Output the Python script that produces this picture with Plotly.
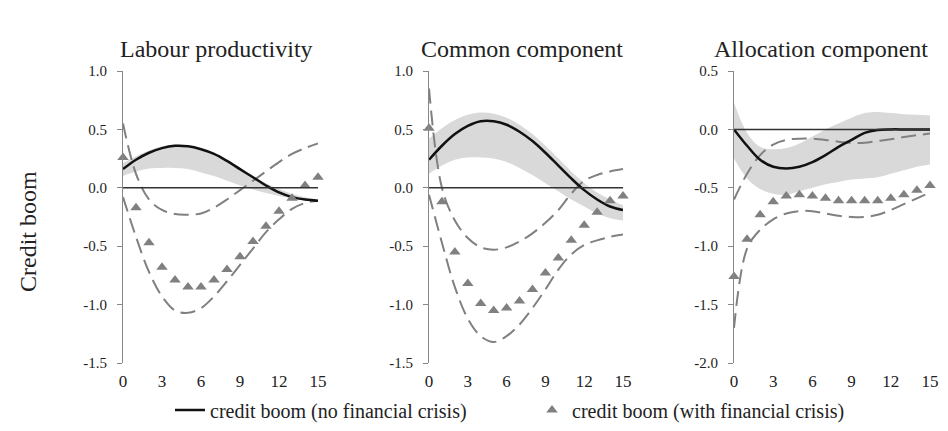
import plotly.graph_objects as go

# ---------------- data ----------------
horizon = list(range(16))
panel_titles = ["Labour productivity", "Common component", "Allocation component"]
y_axis_title = "Credit boom"
legend_no_crisis = "credit boom (no financial crisis)"
legend_crisis = "credit boom (with financial crisis)"

x_tick_vals = [0, 3, 6, 9, 12, 15]
y_tick_vals_12 = [1.0, 0.5, 0.0, -0.5, -1.0, -1.5]
y_tick_text_12 = ["1.0", "0.5", "0.0", "-0.5", "-1.0", "-1.5"]
y_tick_vals_3 = [0.5, 0.0, -0.5, -1.0, -1.5, -2.0]
y_tick_text_3 = ["0.5", "0.0", "-0.5", "-1.0", "-1.5", "-2.0"]

# Labour productivity
lp_no_crisis = [0.16, 0.24, 0.30, 0.34, 0.36, 0.355, 0.33, 0.29, 0.23, 0.16, 0.09, 0.02, -0.04, -0.08, -0.10, -0.11]
lp_band_upper = [0.21, 0.27, 0.32, 0.355, 0.37, 0.365, 0.34, 0.30, 0.24, 0.17, 0.10, 0.04, -0.01, -0.05, -0.08, -0.10]
lp_band_lower = [0.10, 0.14, 0.165, 0.17, 0.17, 0.16, 0.13, 0.10, 0.06, 0.02, -0.015, -0.045, -0.07, -0.09, -0.105, -0.115]
lp_crisis = [0.26, -0.17, -0.47, -0.68, -0.79, -0.85, -0.85, -0.79, -0.70, -0.59, -0.46, -0.33, -0.20, -0.09, 0.02, 0.09]
lp_crisis_upper = [0.55, 0.12, -0.10, -0.19, -0.225, -0.23, -0.22, -0.17, -0.10, -0.02, 0.06, 0.14, 0.22, 0.29, 0.34, 0.38]
lp_crisis_lower = [-0.08, -0.42, -0.72, -0.93, -1.05, -1.07, -1.03, -0.93, -0.80, -0.66, -0.52, -0.38, -0.27, -0.18, -0.13, -0.11]

# Common component
cc_no_crisis = [0.24, 0.36, 0.46, 0.53, 0.57, 0.57, 0.54, 0.48, 0.40, 0.30, 0.19, 0.08, -0.02, -0.10, -0.16, -0.19]
cc_band_upper = [0.42, 0.51, 0.58, 0.625, 0.645, 0.635, 0.60, 0.54, 0.46, 0.36, 0.25, 0.14, 0.04, -0.04, -0.10, -0.15]
cc_band_lower = [0.12, 0.19, 0.24, 0.26, 0.26, 0.25, 0.22, 0.17, 0.11, 0.04, -0.03, -0.10, -0.16, -0.22, -0.26, -0.28]
cc_crisis = [0.51, -0.12, -0.55, -0.82, -0.99, -1.05, -1.03, -0.97, -0.87, -0.73, -0.60, -0.45, -0.32, -0.21, -0.11, -0.07]
cc_crisis_upper = [0.85, 0.0, -0.28, -0.43, -0.51, -0.53, -0.51, -0.46, -0.39, -0.30, -0.19, -0.05, 0.06, 0.11, 0.14, 0.16]
cc_crisis_lower = [-0.06, -0.47, -0.85, -1.12, -1.27, -1.32, -1.27, -1.17, -1.03, -0.87, -0.70, -0.57, -0.49, -0.45, -0.42, -0.40]

# Allocation component
ac_no_crisis = [0.0, -0.14, -0.26, -0.32, -0.335, -0.32, -0.28, -0.22, -0.15, -0.09, -0.03, -0.005, 0.0, 0.0, 0.0, 0.0]
ac_band_upper = [0.23, -0.03, -0.15, -0.17, -0.16, -0.12, -0.06, 0.0, 0.05, 0.10, 0.14, 0.15, 0.14, 0.13, 0.125, 0.12]
ac_band_lower = [-0.25, -0.42, -0.51, -0.55, -0.56, -0.53, -0.50, -0.47, -0.45, -0.43, -0.42, -0.41, -0.38, -0.35, -0.32, -0.30]
ac_crisis = [-1.26, -0.94, -0.73, -0.62, -0.57, -0.56, -0.57, -0.59, -0.61, -0.61, -0.61, -0.61, -0.59, -0.56, -0.52, -0.48]
ac_crisis_upper = [-0.60, -0.38, -0.22, -0.13, -0.09, -0.08, -0.08, -0.09, -0.105, -0.115, -0.115, -0.10, -0.085, -0.065, -0.05, -0.035]
ac_crisis_lower = [-1.70, -1.02, -0.86, -0.77, -0.72, -0.70, -0.70, -0.72, -0.74, -0.75, -0.75, -0.73, -0.69, -0.64, -0.59, -0.54]

panels = [
    (lp_no_crisis, lp_band_upper, lp_band_lower, lp_crisis, lp_crisis_upper, lp_crisis_lower),
    (cc_no_crisis, cc_band_upper, cc_band_lower, cc_crisis, cc_crisis_upper, cc_crisis_lower),
    (ac_no_crisis, ac_band_upper, ac_band_lower, ac_crisis, ac_crisis_upper, ac_crisis_lower),
]

# ---------------- styling ----------------
W, H = 948, 431
FONT = "Liberation Serif"
TXT = "#222222"
BAND = "#d9d9d9"
DASH_C = "#808080"
TRI_C = "#808080"

x_domains = [[123 / W, 318 / W], [429 / W, 623 / W], [734 / W, 930 / W]]
y_domain = [(H - 363) / H, (H - 71) / H]
y_ranges = [[-1.5, 1.0], [-1.5, 1.0], [-2.0, 0.5]]
title_x = [216, 522, 821]

fig = go.Figure()

for i, (solid, bu, bl, tri, du, dl) in enumerate(panels):
    xa = "x" if i == 0 else f"x{i+1}"
    ya = "y" if i == 0 else f"y{i+1}"
    fig.add_trace(go.Scatter(x=horizon, y=bu, mode="lines", line=dict(width=0, shape="spline", color=BAND),
                             xaxis=xa, yaxis=ya, showlegend=False, hoverinfo="skip"))
    fig.add_trace(go.Scatter(x=horizon, y=bl, mode="lines", line=dict(width=0, shape="spline", color=BAND),
                             fill="tonexty", fillcolor=BAND, xaxis=xa, yaxis=ya, showlegend=False, hoverinfo="skip"))
    for d in (du, dl):
        fig.add_trace(go.Scatter(x=horizon, y=d, mode="lines",
                                 line=dict(color=DASH_C, width=2, dash="15px,7px", shape="spline"),
                                 xaxis=xa, yaxis=ya, showlegend=False, cliponaxis=False))
    fig.add_trace(go.Scatter(x=horizon, y=solid, mode="lines", name=legend_no_crisis,
                             line=dict(color="#111111", width=2.5, shape="spline"),
                             xaxis=xa, yaxis=ya, showlegend=(i == 0), legend="legend"))
    fig.add_trace(go.Scatter(x=horizon, y=tri, mode="markers", name=legend_crisis,
                             marker=dict(symbol="triangle-up", size=10, color=TRI_C),
                             xaxis=xa, yaxis=ya, showlegend=(i == 0), cliponaxis=False, legend="legend2"))
    # zero reference line
    fig.add_shape(type="line", xref=xa, yref=ya, x0=horizon[0], x1=horizon[-1], y0=0, y1=0,
                  line=dict(color="#333333", width=1.5), layer="above")
    # panel title
    fig.add_annotation(text=panel_titles[i], xref="paper", yref="paper", x=title_x[i] / W, y=(H - 49) / H,
                       showarrow=False, xanchor="center", yanchor="middle",
                       font=dict(family=FONT, size=24, color=TXT))

    yt_vals = y_tick_vals_3 if i == 2 else y_tick_vals_12
    yt_text = y_tick_text_3 if i == 2 else y_tick_text_12
    xkey = "xaxis" if i == 0 else f"xaxis{i+1}"
    ykey = "yaxis" if i == 0 else f"yaxis{i+1}"
    fig.layout[xkey] = dict(domain=x_domains[i], range=[0, 15], anchor=ya, showline=False, showgrid=False,
                            zeroline=False, tickvals=x_tick_vals, ticks="", ticklabelstandoff=6,
                            automargin=False,
                            tickfont=dict(family=FONT, size=17, color=TXT), fixedrange=True)
    fig.layout[ykey] = dict(domain=y_domain, range=y_ranges[i], anchor=xa, showline=True, linecolor="#888888",
                            linewidth=1, ticks="outside", ticklen=5, tickcolor="#888888", tickwidth=1,
                            showgrid=False, zeroline=False, tickvals=yt_vals, ticktext=yt_text,
                            automargin=False,
                            ticklabelstandoff=7, tickfont=dict(family=FONT, size=15, color=TXT), fixedrange=True)

fig.add_annotation(text=y_axis_title, xref="paper", yref="paper", x=28 / W, y=(H - 232) / H, textangle=-90,
                   showarrow=False, xanchor="center", yanchor="middle",
                   font=dict(family=FONT, size=24, color=TXT))

legend_font = dict(family=FONT, size=20, color=TXT)
fig.update_layout(
    width=W, height=H, margin=dict(l=0, r=0, t=0, b=0, autoexpand=False),
    paper_bgcolor="white", plot_bgcolor="white", hovermode=False,
    legend=dict(orientation="h", x=170 / W, xanchor="left", y=(H - 410) / H, yanchor="middle",
                font=legend_font, bgcolor="rgba(0,0,0,0)", itemwidth=30),
    legend2=dict(orientation="h", x=532 / W, xanchor="left", y=(H - 410) / H, yanchor="middle",
                 font=legend_font, bgcolor="rgba(0,0,0,0)", itemwidth=30),
)

fig.write_html("out.html", config={"displayModeBar": False},
               post_script="document.body.style.margin='0';document.body.style.overflow='hidden';")
